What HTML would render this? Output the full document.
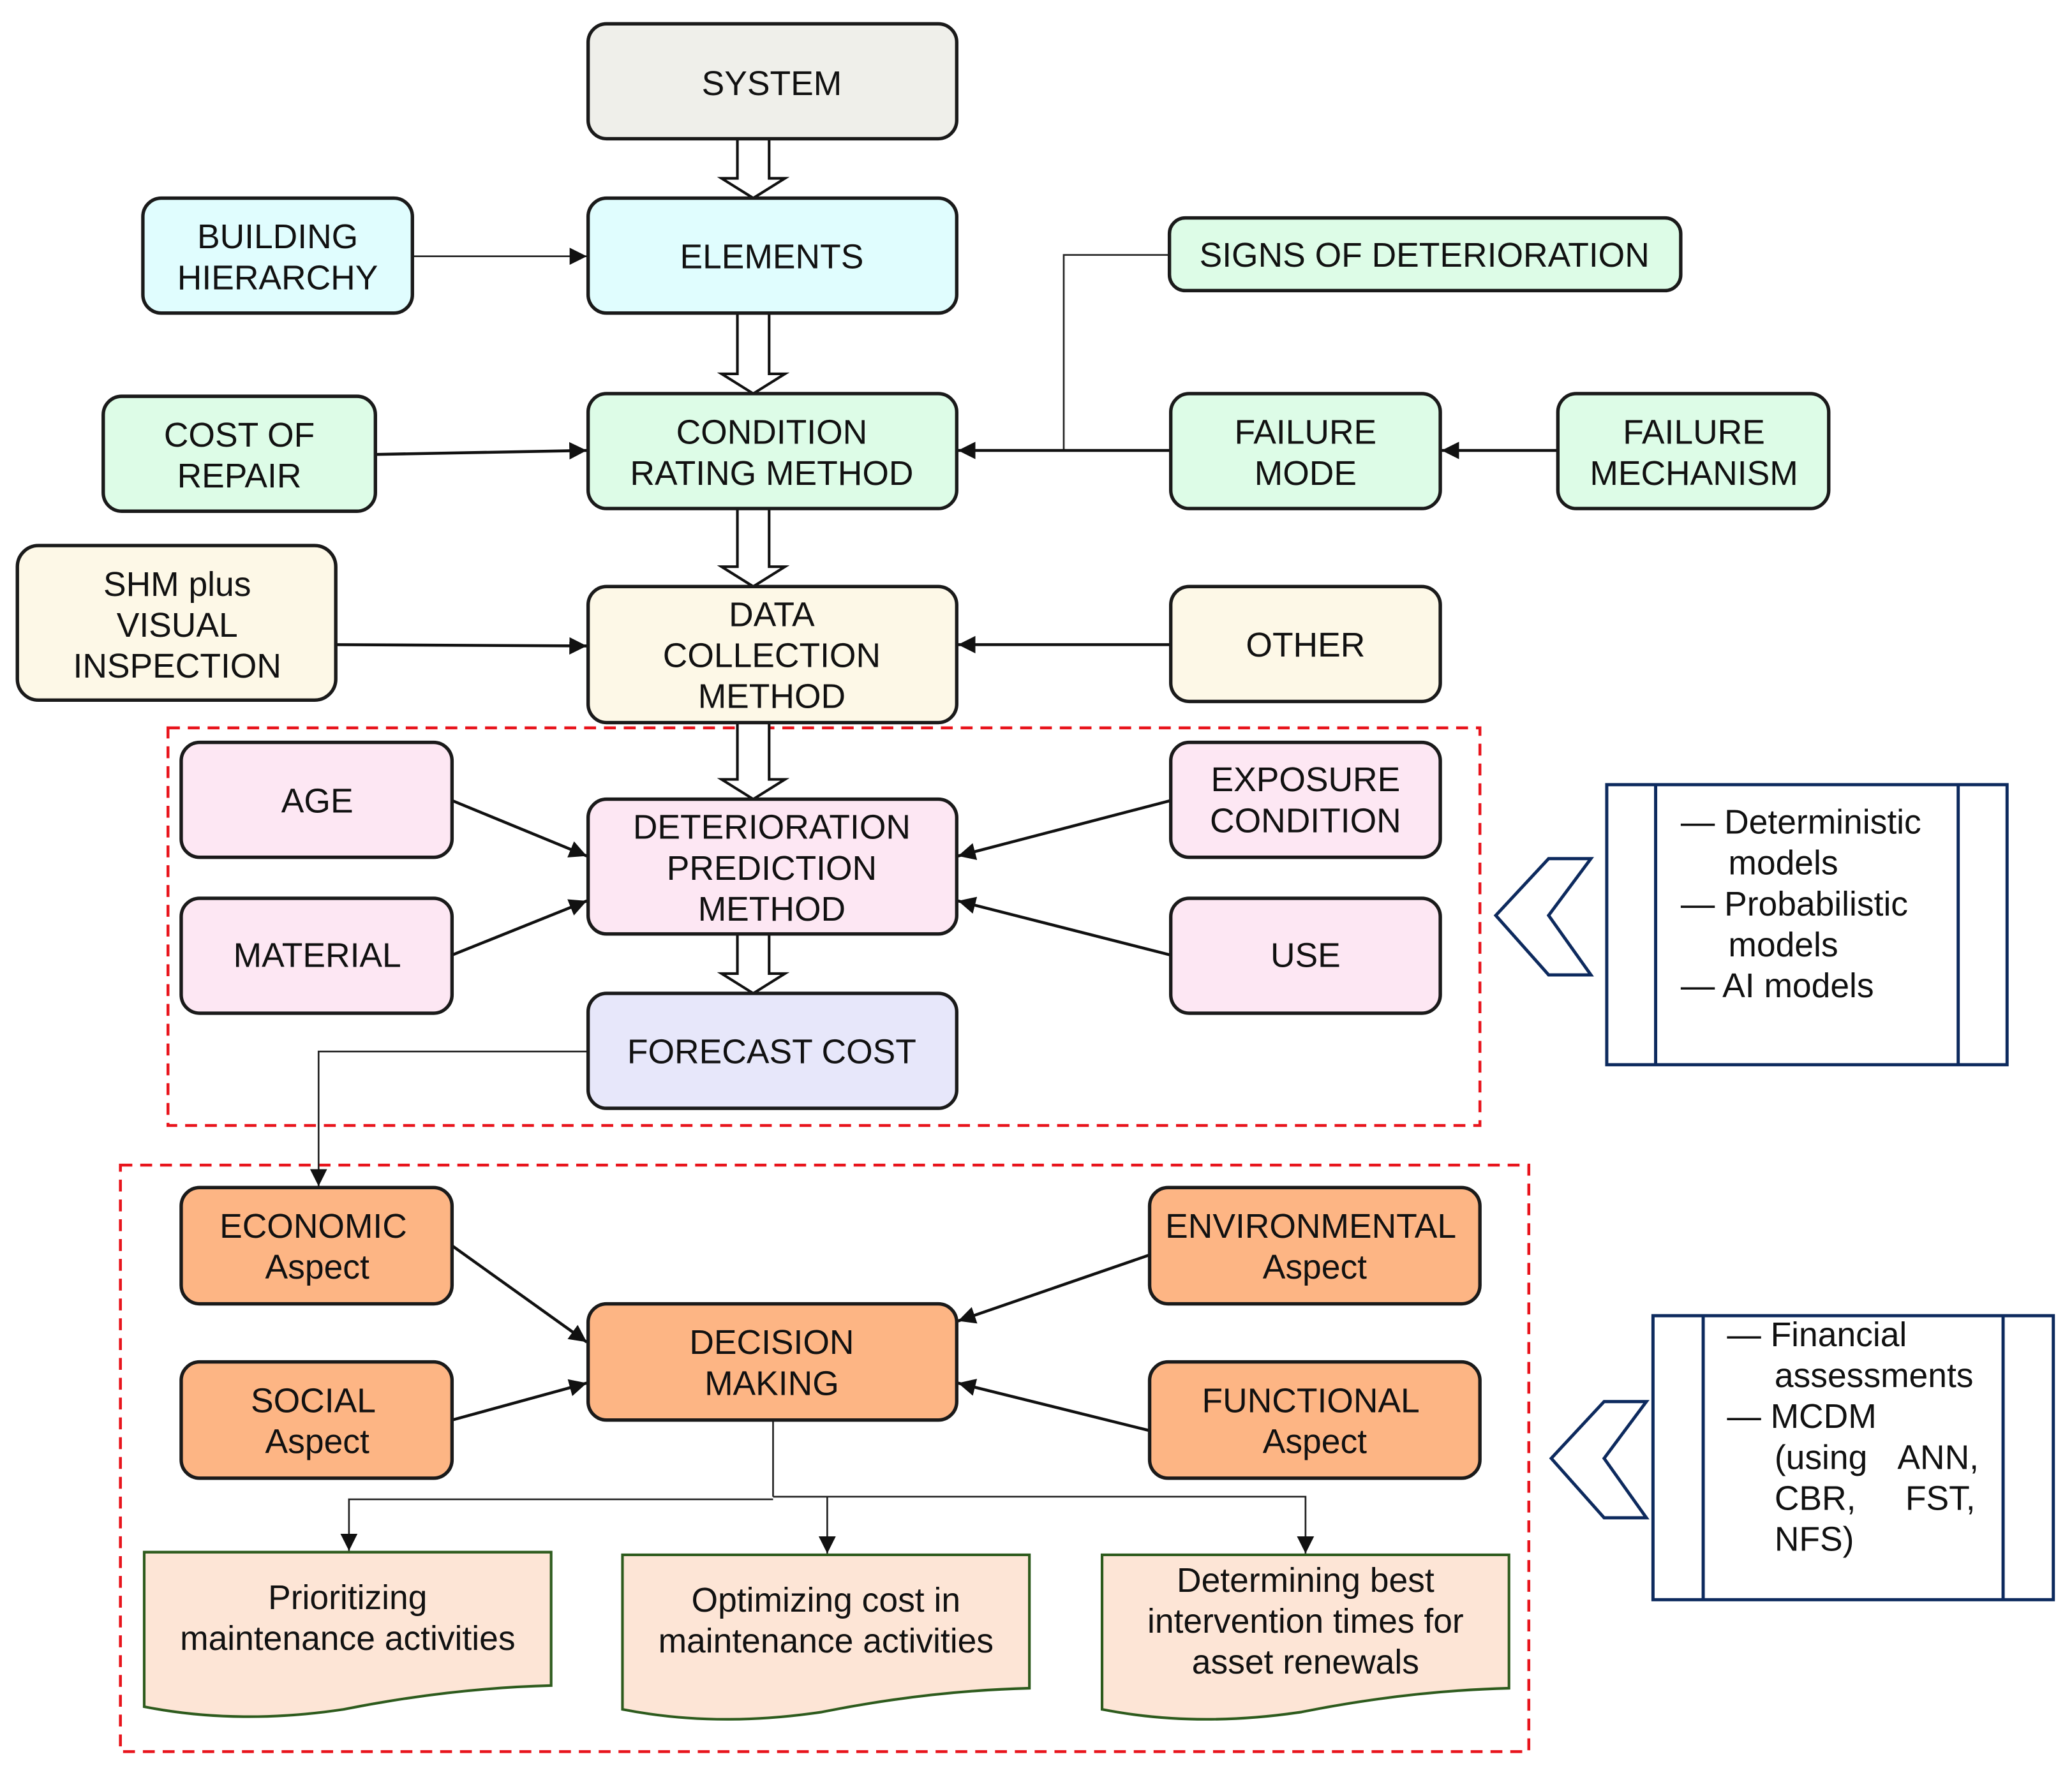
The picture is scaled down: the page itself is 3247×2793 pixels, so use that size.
<!DOCTYPE html>
<html><head><meta charset="utf-8"><style>
html,body{margin:0;padding:0;background:#fff}
svg{display:block}
text{font-family:"Liberation Sans",Arial,sans-serif;font-size:25.8px;fill:#111;text-anchor:middle}
.b{stroke:#1a1a1a;stroke-width:2.6}
.l{stroke:#111;stroke-width:2.2;fill:none}
.t{stroke:#222;stroke-width:1.3;fill:none}
.d{stroke:#e8141c;stroke-width:2.2;fill:none;stroke-dasharray:9 6}
.n{stroke:#0d2a5e;stroke-width:2.4;fill:none}
.doc{fill:#fde5d6;stroke:#2d5b1d;stroke-width:2}
.lt{text-anchor:start}
</style></head><body>
<svg width="3247" height="2793" viewBox="0 0 1568 1349" xmlns="http://www.w3.org/2000/svg">
<defs>
<marker id="a" viewBox="0 0 10 10" refX="10" refY="5" markerWidth="6" markerHeight="6" orient="auto" markerUnits="strokeWidth"><path d="M0,0L10,5L0,10z" fill="#111"/></marker>
<marker id="s" viewBox="0 0 10 10" refX="10" refY="5" markerWidth="10" markerHeight="10" orient="auto" markerUnits="strokeWidth"><path d="M0,0L10,5L0,10z" fill="#111"/></marker>
</defs>
<rect class="d" x="127" y="551" width="993" height="301"/>
<rect class="d" x="91" y="882" width="1066" height="444"/>
<g fill="#fff" stroke="#111" stroke-width="2">
<path d="M558,105V135H546L570,150L594,135H582V105Z"/>
<path d="M558,237V283H546L570,298L594,283H582V237Z"/>
<path d="M558,385V429H546L570,444L594,429H582V385Z"/>
<path d="M558,547V590H546L570,605L594,590H582V547Z"/>
<path d="M558,707V737H546L570,752L594,737H582V707Z"/>
</g>
<path class="t" d="M312,194H444" marker-end="url(#s)"/>
<path class="l" d="M284,344L444,341" marker-end="url(#a)"/>
<path class="t" d="M885,193H805V341"/>
<path class="l" d="M886,341H725" marker-end="url(#a)"/>
<path class="l" d="M1179,341H1091" marker-end="url(#a)"/>
<path class="l" d="M254,488L444,489" marker-end="url(#a)"/>
<path class="l" d="M886,488H725" marker-end="url(#a)"/>
<path class="l" d="M342,606L444,648" marker-end="url(#a)"/>
<path class="l" d="M342,723L444,682" marker-end="url(#a)"/>
<path class="l" d="M886,606L725,648" marker-end="url(#a)"/>
<path class="l" d="M886,723L725,682" marker-end="url(#a)"/>
<path class="t" d="M445,796H241V898" marker-end="url(#s)"/>
<path class="l" d="M342,943L444,1016" marker-end="url(#a)"/>
<path class="l" d="M342,1075L444,1047" marker-end="url(#a)"/>
<path class="l" d="M870,950L725,1000" marker-end="url(#a)"/>
<path class="l" d="M870,1083L725,1047" marker-end="url(#a)"/>
<path class="t" d="M585,1075V1133"/>
<path class="t" d="M585,1135H264V1174" marker-end="url(#s)"/>
<path class="t" d="M585,1133H626V1176" marker-end="url(#s)"/>
<path class="t" d="M585,1133H988V1176" marker-end="url(#s)"/>
<rect class="b" x="445" y="18" width="279" height="87" rx="14" fill="#efefea"/>
<text x="584" y="72">SYSTEM</text>
<rect class="b" x="445" y="150" width="279" height="87" rx="14" fill="#e0fdfe"/>
<text x="584" y="203">ELEMENTS</text>
<rect class="b" x="108" y="150" width="204" height="87" rx="14" fill="#e0fdfe"/>
<text x="210" y="188">BUILDING</text><text x="210" y="219">HIERARCHY</text>
<rect class="b" x="445" y="298" width="279" height="87" rx="14" fill="#ddfce7"/>
<text x="584" y="336">CONDITION</text><text x="584" y="367">RATING METHOD</text>
<rect class="b" x="78" y="300" width="206" height="87" rx="14" fill="#ddfce7"/>
<text x="181" y="338">COST OF</text><text x="181" y="369">REPAIR</text>
<rect class="b" x="885" y="165" width="387" height="55" rx="12" fill="#ddfce7"/>
<text x="1078" y="202">SIGNS OF DETERIORATION</text>
<rect class="b" x="886" y="298" width="204" height="87" rx="14" fill="#ddfce7"/>
<text x="988" y="336">FAILURE</text><text x="988" y="367">MODE</text>
<rect class="b" x="1179" y="298" width="205" height="87" rx="14" fill="#ddfce7"/>
<text x="1282" y="336">FAILURE</text><text x="1282" y="367">MECHANISM</text>
<rect class="b" x="13" y="413" width="241" height="117" rx="16" fill="#fdf8e7"/>
<text x="134" y="451">SHM plus</text><text x="134" y="482">VISUAL</text><text x="134" y="513">INSPECTION</text>
<rect class="b" x="445" y="444" width="279" height="103" rx="14" fill="#fdf8e7"/>
<text x="584" y="474">DATA</text><text x="584" y="505">COLLECTION</text><text x="584" y="536">METHOD</text>
<rect class="b" x="886" y="444" width="204" height="87" rx="14" fill="#fdf8e7"/>
<text x="988" y="497">OTHER</text>
<rect class="b" x="137" y="562" width="205" height="87" rx="14" fill="#fde7f3"/>
<text x="240" y="615">AGE</text>
<rect class="b" x="137" y="680" width="205" height="87" rx="14" fill="#fde7f3"/>
<text x="240" y="732">MATERIAL</text>
<rect class="b" x="445" y="605" width="279" height="102" rx="14" fill="#fde7f3"/>
<text x="584" y="635">DETERIORATION</text><text x="584" y="666">PREDICTION</text><text x="584" y="697">METHOD</text>
<rect class="b" x="886" y="562" width="204" height="87" rx="14" fill="#fde7f3"/>
<text x="988" y="599">EXPOSURE</text><text x="988" y="630">CONDITION</text>
<rect class="b" x="886" y="680" width="204" height="87" rx="14" fill="#fde7f3"/>
<text x="988" y="732">USE</text>
<rect class="b" x="445" y="752" width="279" height="87" rx="14" fill="#e7e7fa"/>
<text x="584" y="805">FORECAST COST</text>
<rect class="b" x="137" y="899" width="205" height="88" rx="14" fill="#fdb584"/>
<text x="237" y="937">ECONOMIC</text><text x="240" y="968">Aspect</text>
<rect class="b" x="870" y="899" width="250" height="88" rx="14" fill="#fdb584"/>
<text x="992" y="937">ENVIRONMENTAL</text><text x="995" y="968">Aspect</text>
<rect class="b" x="445" y="987" width="279" height="88" rx="14" fill="#fdb584"/>
<text x="584" y="1025">DECISION</text><text x="584" y="1056">MAKING</text>
<rect class="b" x="137" y="1031" width="205" height="88" rx="14" fill="#fdb584"/>
<text x="237" y="1069">SOCIAL</text><text x="240" y="1100">Aspect</text>
<rect class="b" x="870" y="1031" width="250" height="88" rx="14" fill="#fdb584"/>
<text x="992" y="1069">FUNCTIONAL</text><text x="995" y="1100">Aspect</text>
<path class="doc" d="M109,1175H417V1276Q340,1278 260,1294Q180,1306 109,1292Z"/>
<text x="263" y="1218">Prioritizing</text><text x="263" y="1249">maintenance activities</text>
<path class="doc" d="M471,1177H779V1278Q702,1280 622,1296Q542,1308 471,1294Z"/>
<text x="625" y="1220">Optimizing cost in</text><text x="625" y="1251">maintenance activities</text>
<path class="doc" d="M834,1177H1142V1278Q1065,1280 985,1296Q905,1308 834,1294Z"/>
<text x="988" y="1205">Determining best</text><text x="988" y="1236">intervention times for</text><text x="988" y="1267">asset renewals</text>
<rect class="n" x="1216" y="594" width="303" height="212"/>
<path class="n" d="M1253,594V806M1482,594V806"/>
<path class="n" d="M1132,693L1172,650H1204L1172,693L1204,738H1172Z"/>
<text class="lt" x="1272" y="631">— Deterministic</text>
<text class="lt" x="1308" y="662">models</text>
<text class="lt" x="1272" y="693">— Probabilistic</text>
<text class="lt" x="1308" y="724">models</text>
<text class="lt" x="1272" y="755">— AI models</text>
<rect class="n" x="1251" y="996" width="303" height="215"/>
<path class="n" d="M1289,996V1211M1516,996V1211"/>
<path class="n" d="M1174,1104L1214,1061H1246L1214,1104L1246,1149H1214Z"/>
<text class="lt" x="1307" y="1019">— Financial</text>
<text class="lt" x="1343" y="1050">assessments</text>
<text class="lt" x="1307" y="1081">— MCDM</text>
<text class="lt" x="1343" y="1112">(using</text><text class="lt" x="1436" y="1112">ANN,</text>
<text class="lt" x="1343" y="1143">CBR,</text><text class="lt" x="1442" y="1143">FST,</text>
<text class="lt" x="1343" y="1174">NFS)</text>
</svg>
</body></html>
